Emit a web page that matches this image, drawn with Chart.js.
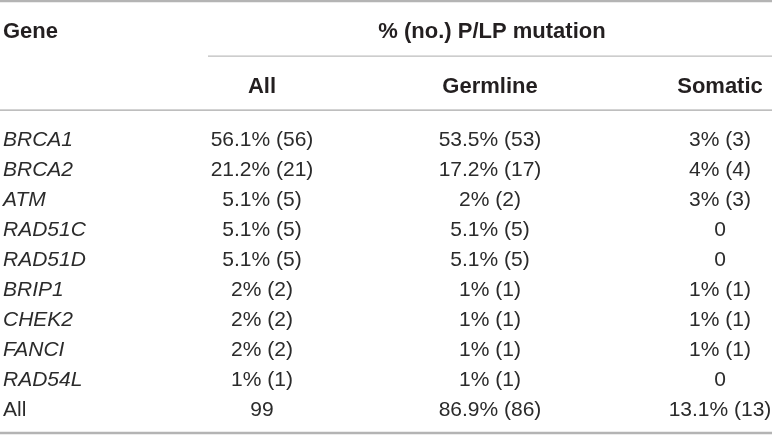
<!DOCTYPE html>
<html>
<head>
<meta charset="utf-8">
<title>P/LP mutation table</title>
<script src="https://cdn.jsdelivr.net/npm/chart.js@4.4.1/dist/chart.umd.min.js"></script>
<style>
  html, body { margin: 0; padding: 0; background: #fff; }
  #wrap { width: 772px; height: 435px; position: relative; }
</style>
</head>
<body>
<div id="wrap"><canvas id="tableChart"></canvas></div>
<script>
// ── Data ────────────────────────────────────────────────────
const genes       = ["BRCA1", "BRCA2", "ATM", "RAD51C", "RAD51D", "BRIP1", "CHEK2", "FANCI", "RAD54L", "All"];
const columns     = ["All", "Germline", "Somatic"];
const firstHeader = "Gene";
const groupHeader = "% (no.) P/LP mutation";

// percent (null = count only) and number of P/LP mutations
const allPct      = [56.1, 21.2, 5.1, 5.1, 5.1, 2, 2, 2, 1, null];
const allNo       = [56, 21, 5, 5, 5, 2, 2, 2, 1, 99];
const germPct     = [53.5, 17.2, 2, 5.1, 5.1, 1, 1, 1, 1, 86.9];
const germNo      = [53, 17, 2, 5, 5, 1, 1, 1, 1, 86];
const somPct      = [3, 4, 3, 0, 0, 1, 1, 1, 0, 13.1];
const somNo       = [3, 4, 3, 0, 0, 1, 1, 1, 0, 13];

// ── Layout (x in px on a 0..772 axis, y in row units) ───────
const COL_X     = [3, 262, 490, 720];
const GROUP_X   = 492;
const Y_HEAD    = -3.6;
const Y_SUBHEAD = -1.77;
const FONT      = "'Liberation Sans', Arial, Helvetica, sans-serif";
const SIZE      = 21;
const SIZE_BOLD = 22;

function cell(pct, no) {
  if (no === 0) return "0";
  if (pct === null) return String(no);
  return pct + "% (" + no + ")";
}

const bodyCols = [
  allPct.map((p, i) => cell(p, allNo[i])),
  germPct.map((p, i) => cell(p, germNo[i])),
  somPct.map((p, i) => cell(p, somNo[i]))
];

function textSet(points, texts, opts) {
  return Object.assign({
    data: points,
    cellText: texts,
    pointRadius: 0,
    showLine: false,
    align: "center",
    weight: "normal",
    italic: false,
    size: SIZE,
    color: "#2b2b2b"
  }, opts);
}

function rule(y, x0, x1, width, color) {
  return {
    data: [{ x: x0, y }, { x: x1, y }],
    showLine: true,
    pointRadius: 0,
    borderColor: color,
    borderWidth: width,
    fill: false
  };
}

const headStyle = { weight: "bold", size: SIZE_BOLD, color: "#231f20" };

const datasets = [
  rule(-4.57, 0, 772, 2.5, "#b4b4b4"),
  rule(-2.73, 208, 772, 1.2, "#bdbdbd"),
  rule(-0.93, 0, 772, 1.2, "#a8a8a8"),
  rule(9.83, 0, 772, 2.5, "#b4b4b4"),

  // header rows
  textSet([{ x: COL_X[0], y: Y_HEAD }], [firstHeader], Object.assign({ align: "left" }, headStyle)),
  textSet([{ x: GROUP_X, y: Y_HEAD }], [groupHeader], headStyle),
  textSet(columns.map((c, i) => ({ x: COL_X[i + 1], y: Y_SUBHEAD })), columns, headStyle),

  // gene names (total row upright)
  textSet(genes.slice(0, -1).map((g, i) => ({ x: COL_X[0], y: i })), genes.slice(0, -1), { align: "left", italic: true }),
  textSet([{ x: COL_X[0], y: genes.length - 1 }], [genes[genes.length - 1]], { align: "left" })
];

bodyCols.forEach((texts, c) => {
  datasets.push(textSet(texts.map((t, i) => ({ x: COL_X[c + 1], y: i })), texts, {}));
});

// ── Plugin: draw cell text at each point's pixel position ────
const cellTextPlugin = {
  id: "cellText",
  afterDatasetsDraw(chart) {
    const ctx = chart.ctx;
    chart.data.datasets.forEach((ds, di) => {
      if (!ds.cellText) return;
      const meta = chart.getDatasetMeta(di);
      ctx.save();
      ctx.fillStyle = ds.color;
      ctx.font = (ds.italic ? "italic " : "") + ds.weight + " " + ds.size + "px " + FONT;
      ctx.textAlign = ds.align;
      ctx.textBaseline = "alphabetic";
      meta.data.forEach((pt, i) => {
        ctx.fillText(ds.cellText[i], pt.x, pt.y + ds.size * 0.36);
      });
      ctx.restore();
    });
  }
};

new Chart(document.getElementById("tableChart"), {
  type: "scatter",
  data: { datasets },
  options: {
    responsive: true,
    maintainAspectRatio: false,
    animation: false,
    events: [],
    layout: { padding: 0 },
    plugins: {
      legend: { display: false },
      tooltip: { enabled: false }
    },
    scales: {
      x: { type: "linear", min: 0, max: 772, display: false },
      y: { type: "linear", min: -4.6, max: 9.9, reverse: true, display: false }
    }
  },
  plugins: [cellTextPlugin]
});
</script>
</body>
</html>
